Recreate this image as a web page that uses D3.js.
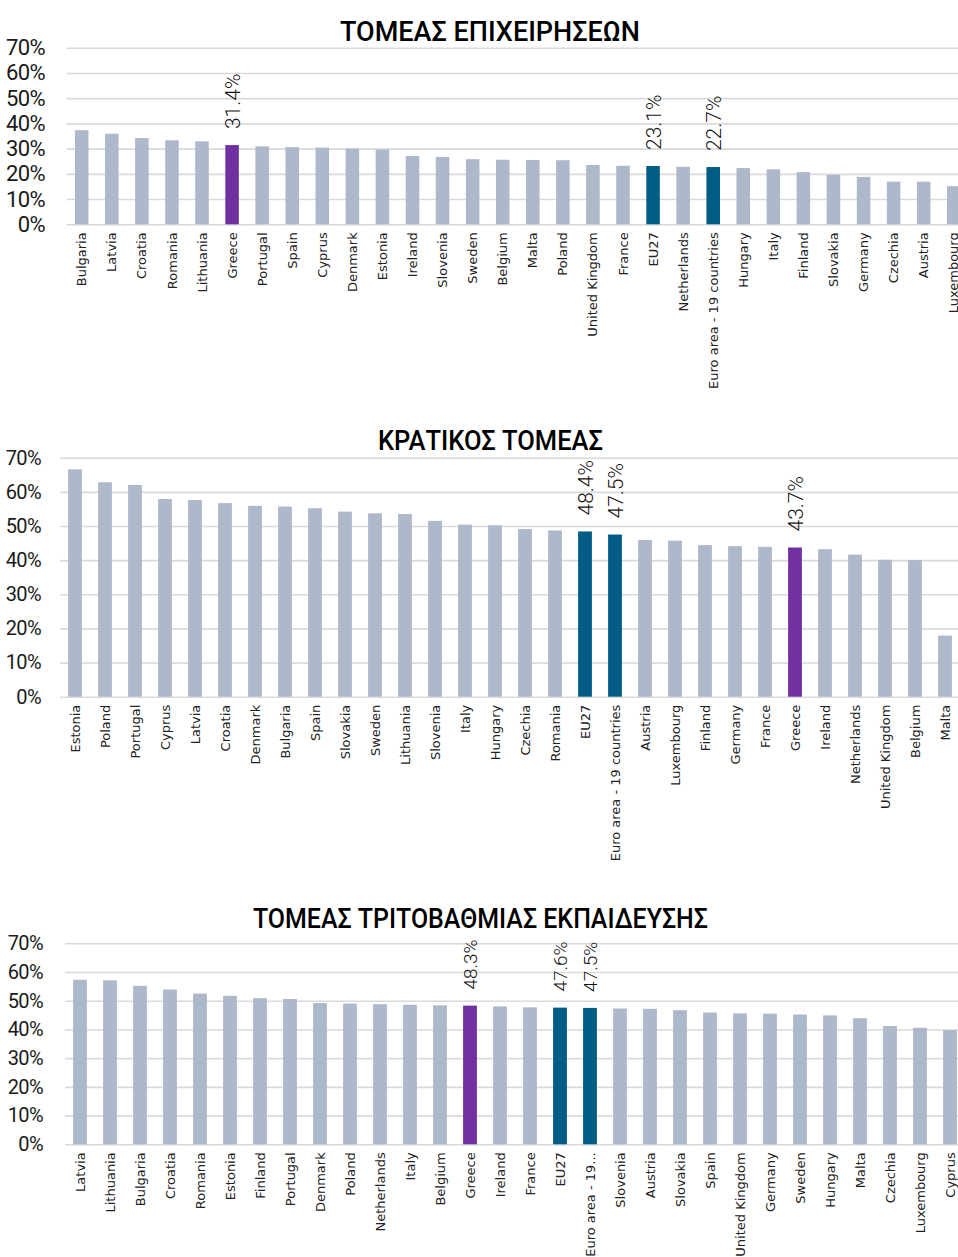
<!DOCTYPE html>
<html>
<head>
<meta charset="utf-8">
<script src="https://cdn.jsdelivr.net/npm/d3@7"></script>
<style>
  body { margin: 0; background: #fff; }
  svg { display: block; }
</style>
</head>
<body>
<svg id="chart" width="958" height="1257"></svg>
<script>
// Business enterprise sector
const bizCountries = ["Bulgaria", "Latvia", "Croatia", "Romania", "Lithuania", "Greece", "Portugal", "Spain",
  "Cyprus", "Denmark", "Estonia", "Ireland", "Slovenia", "Sweden", "Belgium", "Malta", "Poland",
  "United Kingdom", "France", "EU27", "Netherlands", "Euro area - 19 countries", "Hungary", "Italy",
  "Finland", "Slovakia", "Germany", "Czechia", "Austria", "Luxembourg"];
const bizValues = [37.3, 35.9, 34.2, 33.3, 32.9, 31.4, 30.9, 30.6, 30.4, 30.0, 29.6, 27.1, 26.7, 25.8,
  25.6, 25.5, 25.4, 23.5, 23.2, 23.1, 22.8, 22.7, 22.3, 21.8, 20.7, 19.6, 18.8, 16.9, 16.9, 15.1];

// Government sector
const govCountries = ["Estonia", "Poland", "Portugal", "Cyprus", "Latvia", "Croatia", "Denmark", "Bulgaria",
  "Spain", "Slovakia", "Sweden", "Lithuania", "Slovenia", "Italy", "Hungary", "Czechia", "Romania", "EU27",
  "Euro area - 19 countries", "Austria", "Luxembourg", "Finland", "Germany", "France", "Greece", "Ireland",
  "Netherlands", "United Kingdom", "Belgium", "Malta"];
const govValues = [66.6, 62.8, 62.0, 57.9, 57.6, 56.7, 55.9, 55.7, 55.2, 54.2, 53.7, 53.5, 51.5, 50.4,
  50.2, 49.1, 48.7, 48.4, 47.5, 45.9, 45.7, 44.4, 44.1, 43.9, 43.7, 43.2, 41.6, 40.1, 40.0, 17.9];

// Higher education sector
const eduCountries = ["Latvia", "Lithuania", "Bulgaria", "Croatia", "Romania", "Estonia", "Finland", "Portugal",
  "Denmark", "Poland", "Netherlands", "Italy", "Belgium", "Greece", "Ireland", "France", "EU27",
  "Euro area - 19...", "Slovenia", "Austria", "Slovakia", "Spain", "United Kingdom", "Germany", "Sweden",
  "Hungary", "Malta", "Czechia", "Luxembourg", "Cyprus"];
const eduValues = [57.3, 57.1, 55.2, 53.9, 52.5, 51.7, 50.9, 50.6, 49.2, 49.0, 48.8, 48.6, 48.4, 48.3,
  48.0, 47.7, 47.6, 47.5, 47.3, 47.2, 46.7, 45.9, 45.6, 45.5, 45.2, 44.9, 43.9, 41.2, 40.6, 39.8];

const yTicks = [0, 10, 20, 30, 40, 50, 60, 70];

const titles = ["ΤΟΜΕΑΣ ΕΠΙΧΕΙΡΗΣΕΩΝ", "ΚΡΑΤΙΚΟΣ ΤΟΜΕΑΣ", "ΤΟΜΕΑΣ ΤΡΙΤΟΒΑΘΜΙΑΣ ΕΚΠΑΙΔΕΥΣΗΣ"];

const GREY = "#adb8ca", GREECE = "#7030a0", EU = "#015d84";

const svg = d3.select("#chart");

function barColor(name) {
  if (name === "Greece") return GREECE;
  if (name === "EU27" || name.startsWith("Euro area")) return EU;
  return GREY;
}

function drawChart(cfg) {
  const g = svg.append("g");
  const n = cfg.countries.length;

  const x = d3.scaleBand()
    .domain(cfg.countries)
    .range([cfg.left, cfg.left + n * cfg.step])
    .paddingInner(cfg.pad)
    .paddingOuter(cfg.pad / 2);
  const y = d3.scaleLinear().domain([0, 70]).range([cfg.bottom, cfg.top]);

  // gridlines + tick labels
  const axis = g.append("g")
    .attr("transform", `translate(${cfg.left},0)`)
    .call(d3.axisLeft(y).tickValues(yTicks).tickFormat(d => d + "%")
      .tickSize(-(1000 - cfg.left)).tickPadding(cfg.left - cfg.tickRight));
  axis.select(".domain").remove();
  axis.selectAll(".tick line").attr("stroke", "#d9d9d9").attr("stroke-width", 1.6);
  axis.selectAll(".tick text")
    .attr("fill", "#1a1a1a")
    .style("font-family", "Roboto, sans-serif")
    .style("font-size", cfg.tickSize + "px")
    .style("letter-spacing", "-0.6px");

  // bars
  g.selectAll(".bar")
    .data(cfg.countries)
    .join("rect")
    .attr("x", d => x(d))
    .attr("width", x.bandwidth())
    .attr("y", (d, i) => y(cfg.values[i]))
    .attr("height", (d, i) => y(0) - y(cfg.values[i]))
    .attr("fill", d => barColor(d));

  // value labels on highlighted bars
  cfg.countries.forEach((d, i) => {
    if (barColor(d) === GREY) return;
    const cx = x(d) + x.bandwidth() / 2;
    const ty = y(cfg.values[i]) - 16;
    g.append("text")
      .attr("transform", `translate(${cx},${ty}) rotate(-90)`)
      .attr("dy", "0.36em")
      .attr("fill", "#111")
      .style("font-family", "Roboto, sans-serif")
      .style("font-weight", 300)
      .style("font-size", cfg.valSize + "px")
      .text(cfg.values[i].toFixed(1) + "%");
  });

  // category labels
  g.selectAll(".cat")
    .data(cfg.countries)
    .join("text")
    .attr("transform", d => `translate(${x(d) + x.bandwidth() / 2},${cfg.bottom + 8}) rotate(-90)`)
    .attr("text-anchor", "end")
    .attr("dy", "0.35em")
    .attr("fill", "#222")
    .style("font-family", "'DejaVu Sans', sans-serif")
    .style("font-size", "13px")
    .text(d => d);

  // title
  g.append("text")
    .attr("x", cfg.titleX)
    .attr("y", cfg.titleY)
    .attr("text-anchor", "middle")
    .attr("textLength", cfg.titleW)
    .attr("lengthAdjust", "spacingAndGlyphs")
    .attr("fill", "#000")
    .style("font-family", "Roboto, sans-serif")
    .style("font-weight", 500)
    .style("font-size", "27px")
    .text(cfg.title);
}

drawChart({
  countries: bizCountries, values: bizValues, title: titles[0],
  top: 47.7, bottom: 224.3, left: 66.7, step: 30.07, pad: 0.55,
  tickRight: 45, tickSize: 22, valSize: 21,
  titleX: 490, titleY: 41, titleW: 300
});

drawChart({
  countries: govCountries, values: govValues, title: titles[1],
  top: 457.7, bottom: 696.7, left: 60, step: 30, pad: 0.54,
  tickRight: 41, tickSize: 20, valSize: 21,
  titleX: 490.5, titleY: 450, titleW: 225
});

drawChart({
  countries: eduCountries, values: eduValues, title: titles[2],
  top: 943.3, bottom: 1144.3, left: 65, step: 30, pad: 0.54,
  tickRight: 43, tickSize: 20, valSize: 19,
  titleX: 480.5, titleY: 928, titleW: 455
});
</script>
</body>
</html>
